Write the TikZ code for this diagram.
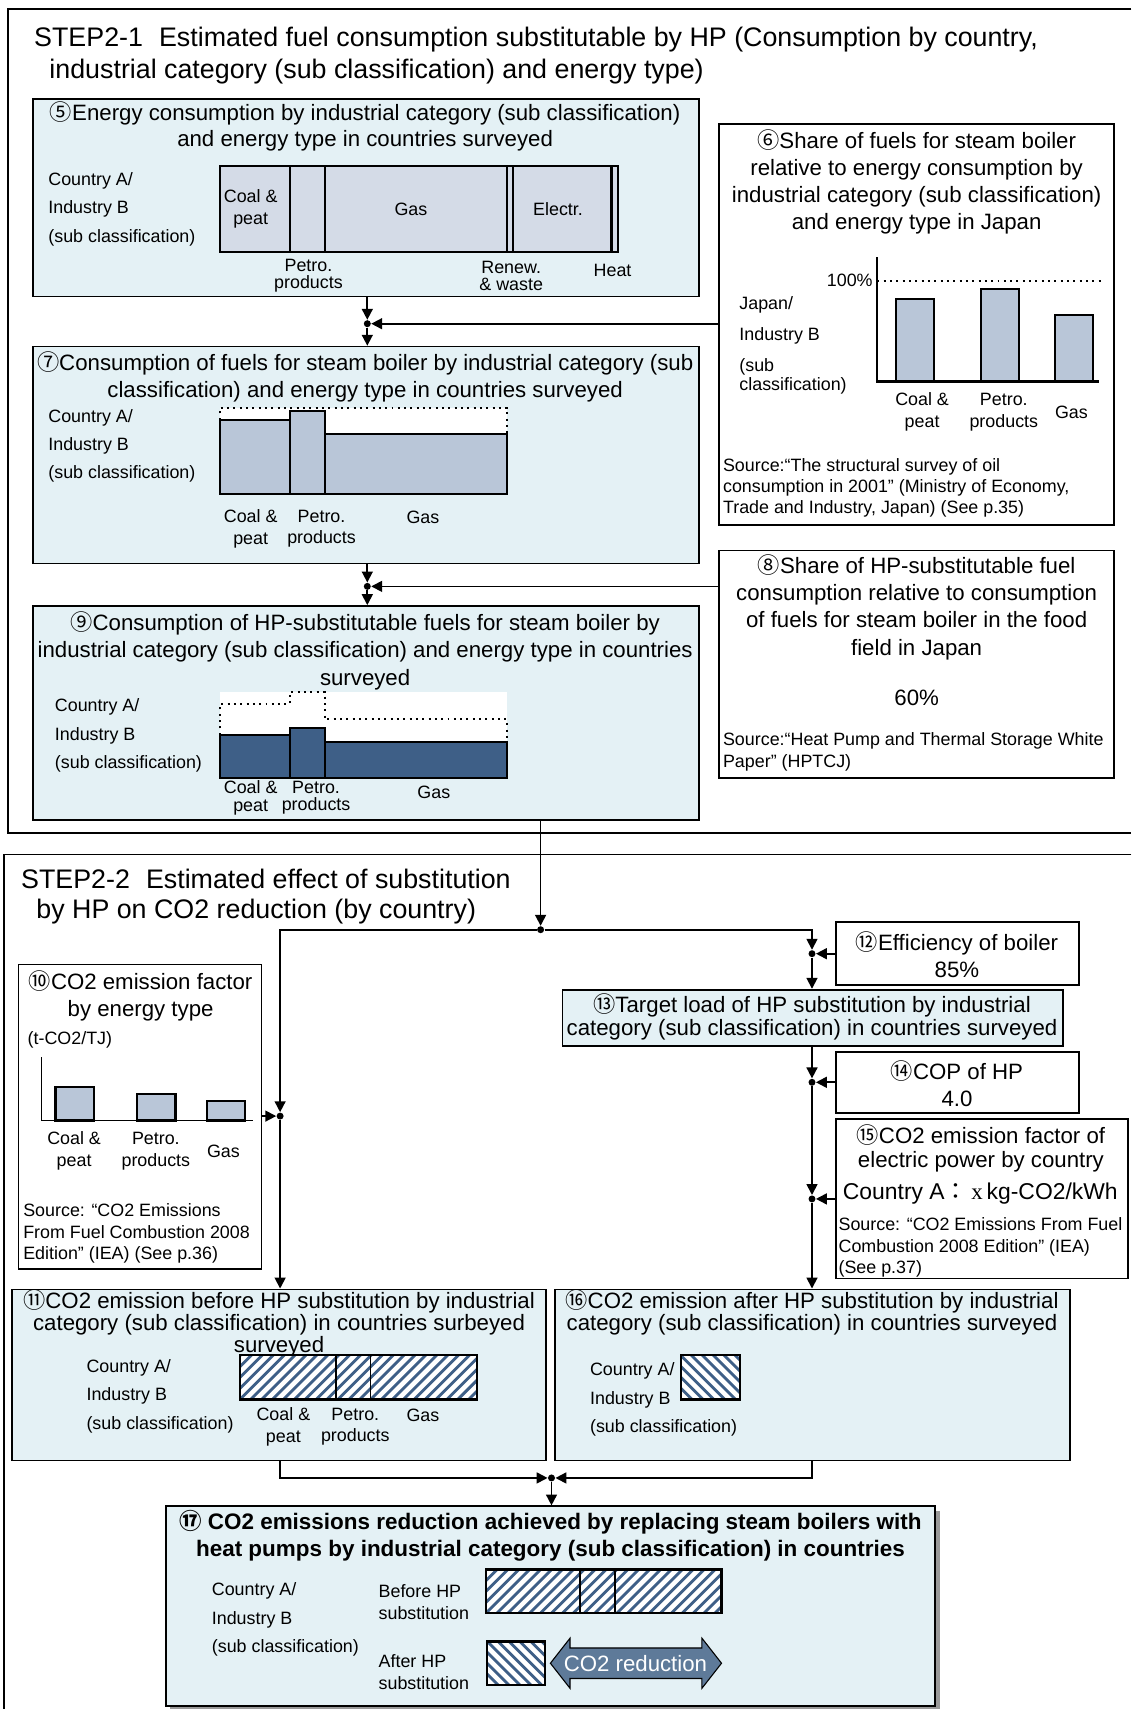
\documentclass[tikz,border=0pt]{standalone}
\usepackage{fontspec}
\setmainfont{Liberation Sans}
\newfontfamily\cjk{Noto Sans CJK JP}
\newfontfamily\serifx{Liberation Serif}
\usetikzlibrary{arrows.meta,fit,shadows}

\definecolor{panel}{RGB}{228,241,245}
\definecolor{barpale}{RGB}{212,219,231}
\definecolor{barmid}{RGB}{185,198,216}
\definecolor{bardark}{RGB}{62,95,135}
\definecolor{cutarrow}{RGB}{94,122,153}

\newcommand{\cnum}[1]{{\cjk #1}}
\newcommand{\fsTitle}{\fontsize{12.3}{15}\selectfont}
\newcommand{\fsBox}{\fontsize{10.2}{12.5}\selectfont}
\newcommand{\fsTight}{\fontsize{10.2}{10.3}\selectfont}
\newcommand{\fsRow}{\fontsize{8.2}{13}\selectfont}
\newcommand{\fsLab}{\fontsize{8.2}{10}\selectfont}
\newcommand{\fsSrc}{\fontsize{8.2}{9.8}\selectfont}

% striped bar: x1,y1,x2,y2,direction
\newcommand{\stripes}[5]{%
  \begin{scope}
    \clip (#1,#2) rectangle (#3,#4);
    \fill[white] (#1,#2) rectangle (#3,#4);
    \foreach \s in {-80,-70,...,300}
      \draw[bardark, line width=1.3pt] (#1+\s,#4) -- ++(#5*60,-60);
  \end{scope}
  \draw[line width=1pt] (#1,#2) rectangle (#3,#4);}

\tikzset{
  panelbox/.style={draw, line width=0.8pt, fill=panel, inner sep=0pt},
  plainbox/.style={draw, line width=0.8pt, fill=white, inner sep=0pt},
  flow/.style={line width=0.8pt, -{Triangle[length=5pt,width=5pt]}},
  joint/.style={circle, fill=black, inner sep=0pt, minimum size=3.2pt},
  bar/.style={draw, line width=1pt, fill=barmid},
  txt/.style={inner sep=0pt, align=center, font=\fsBox},
  lab/.style={inner sep=0pt, align=center, font=\fsLab},
  rows/.style={inner sep=0pt, align=left, anchor=west, font=\fsRow},
  src/.style={inner sep=0pt, align=left, anchor=north west, font=\fsSrc},
}

\begin{document}
\begin{tikzpicture}[x=0.5pt, y=-0.5pt]
\useasboundingbox (0,0) rectangle (1038,1568);

% frames
\draw[line width=0.8pt] (1038,8) -- (7,8) -- (7,764) -- (1038,764);
\draw[line width=0.8pt] (1038,784) -- (4,784) -- (4,1568);
\node[anchor=west, inner sep=0pt, font=\fsTitle] (s1a) at (31,36) {STEP2-1\hspace{0.6em}Estimated fuel consumption substitutable by HP (Consumption by country,};
\node[anchor=west, inner sep=0pt, font=\fsTitle] (s1b) at (45,66) {industrial category (sub classification) and energy type)};
\node[anchor=west, inner sep=0pt, font=\fsTitle] (s2a) at (19,806) {STEP2-2\hspace{0.6em}Estimated effect of substitution};
\node[anchor=west, inner sep=0pt, font=\fsTitle] (s2b) at (33,836) {by HP on CO2 reduction (by country)};

% boxes
\node[panelbox, fit={(30,91) (641,272)}] (b5) {};
\node[plainbox, fit={(660,114) (1022,482)}] (b6) {};
\node[panelbox, fit={(30,318) (641,517)}] (b7) {};
\node[plainbox, fit={(660,505) (1022,714)}] (b8) {};
\node[panelbox, fit={(30,556) (641,752)}] (b9) {};
\node[plainbox, fit={(17,885) (240,1164)}] (b10) {};
\node[panelbox, fit={(11,1183) (501,1340)}] (b11) {};
\node[plainbox, fit={(767,846) (990,904)}] (b12) {};
\node[panelbox, fit={(516,908) (975,960)}] (b13) {};
\node[plainbox, fit={(767,965) (990,1021)}] (b14) {};
\node[plainbox, fit={(767,1027) (1035,1173)}] (b15) {};
\node[panelbox, fit={(509,1183) (982,1340)}] (b16) {};
\node[panelbox, fit={(152,1382) (858,1565)}, drop shadow={shadow xshift=2pt, shadow yshift=-2pt, fill=gray!80, opacity=1}] (b17) {};

% box 5
\node[txt, font=\fontsize{10.2}{11.5}\selectfont] (t5) at (335,116) {\cnum{⑤}Energy consumption by industrial category (sub classification)\\and energy type in countries surveyed};
\node[rows] (r5) at (44,192) {Country A/\\Industry B\\(sub classification)};
\fill[barpale] (202,152) rectangle (567,231);
\draw[line width=1pt] (202,152) rectangle (567,231);
\foreach \x in {266,298,465,471,561}
  \draw[line width=1pt] (\x,152) -- (\x,231);
\node[lab] (l5a) at (230,192) {Coal \&\\peat};
\node[lab] (l5b) at (377,192) {Gas};
\node[lab] (l5c) at (512,192) {Electr.};
\node[lab, font=\fontsize{8.2}{7.8}\selectfont] (l5d) at (283,253) {Petro.\\products};
\node[lab, font=\fontsize{8.2}{7.8}\selectfont] (l5e) at (469,253) {Renew.\\\& waste};
\node[lab] (l5f) at (562,248) {Heat};

% box 6
\node[txt] (t6) at (841,167) {\cnum{⑥}Share of fuels for steam boiler\\relative to energy consumption by\\industrial category (sub classification)\\and energy type in Japan};
\node[rows] (r6a) at (678,280) {Japan/};
\node[rows] (r6b) at (678,308) {Industry B};
\node[rows, font=\fontsize{8.2}{8.8}\selectfont] (r6c) at (678,345) {(sub\\classification)};
\draw[line width=1pt] (805,236) -- (805,350) -- (1008,350);
\draw[dotted, line width=0.9pt] (805,258) -- (1010,258);
\node[lab, anchor=east] (p100) at (801,257) {100\%};
\draw[bar] (822,350) rectangle (857,274);
\draw[bar] (900,350) rectangle (935,265);
\draw[bar] (968,350) rectangle (1003,289);
\node[lab] (l6a) at (846,378) {Coal \&\\peat};
\node[lab] (l6b) at (921,378) {Petro.\\products};
\node[lab] (l6c) at (983,378) {Gas};
\node[src] (src6) at (663,420) {Source:“The structural survey of oil\\consumption in 2001” (Ministry of Economy,\\Trade and Industry, Japan) (See p.35)};

% box 7
\node[txt] (t7) at (335,346) {\cnum{⑦}Consumption of fuels for steam boiler by industrial category (sub\\classification) and energy type in countries surveyed};
\node[rows] (r7) at (44,409) {Country A/\\Industry B\\(sub classification)};
\fill[white] (202,374) rectangle (465,453);
\draw[dotted, line width=0.9pt] (202,385) -- (202,374) -- (465,374) -- (465,398);
\draw[bar] (202,453) rectangle (266,385);
\draw[bar] (266,453) rectangle (298,377);
\draw[bar] (298,453) rectangle (465,398);
\node[lab] (l7a) at (230,485) {Coal \&\\peat};
\node[lab] (l7b) at (295,485) {Petro.\\products};
\node[lab] (l7c) at (388,475) {Gas};

% box 8
\node[txt] (t8) at (841,557) {\cnum{⑧}Share of HP-substitutable fuel\\consumption relative to consumption\\of fuels for steam boiler in the food\\field in Japan};
\node[txt] (v8) at (841,640) {60\%};
\node[src] (src8) at (663,672) {Source:“Heat Pump and Thermal Storage White\\Paper” (HPTCJ)};

% box 9
\node[txt] (t9) at (335,597) {\cnum{⑨}Consumption of HP-substitutable fuels for steam boiler by\\industrial category (sub classification) and energy type in countries\\surveyed};
\node[rows] (r9) at (50,675) {Country A/\\Industry B\\(sub classification)};
\fill[white] (202,635) rectangle (465,714);
\draw[dotted, line width=0.9pt] (202,674) -- (202,646) -- (266,646) -- (266,635) -- (298,635) -- (298,660) -- (465,660) -- (465,681);
\draw[line width=1pt, fill=bardark] (202,714) rectangle (266,674);
\draw[line width=1pt, fill=bardark] (266,714) rectangle (298,668);
\draw[line width=1pt, fill=bardark] (298,714) rectangle (465,681);
\node[lab, font=\fontsize{8.2}{8}\selectfont] (l9a) at (230,732) {Coal \&\\peat};
\node[lab, font=\fontsize{8.2}{8}\selectfont] (l9b) at (290,732) {Petro.\\products};
\node[lab] (l9c) at (398,727) {Gas};

% box 10
\node[txt] (t10) at (129,914) {\cnum{⑩}CO2 emission factor\\by energy type};
\node[rows] (u10) at (25,954) {(t-CO2/TJ)};
\draw[line width=0.8pt] (38,970) -- (38,1028) -- (232,1028);
\draw[bar] (51,1028) rectangle (86,997);
\draw[bar] (126,1028) rectangle (161,1004);
\draw[bar] (190,1028) rectangle (225,1010);
\node[lab] (l10a) at (68,1056) {Coal \&\\peat};
\node[lab] (l10b) at (143,1056) {Petro.\\products};
\node[lab] (l10c) at (205,1056) {Gas};
\node[src] (src10) at (21,1104) {Source: “CO2 Emissions\\From Fuel Combustion 2008\\Edition” (IEA) (See p.36)};

% box 11
\node[txt, font=\fsTight] (t11) at (256,1204) {\cnum{⑪}CO2 emission before HP substitution by industrial\\category (sub classification) in countries surbeyed};
\node[txt, font=\fsTight] (t11b) at (256,1236) {surveyed};
\node[rows] (r11) at (79,1281) {Country A/\\Industry B\\(sub classification)};
\stripes{220}{1243}{438}{1284}{1}
\draw[line width=0.8pt] (308,1243) -- (308,1284);
\draw[line width=0.8pt] (340,1243) -- (340,1284);
\node[lab] (l11a) at (260,1309) {Coal \&\\peat};
\node[lab] (l11b) at (326,1309) {Petro.\\products};
\node[lab] (l11c) at (388,1299) {Gas};

% box 12 - 15
\node[txt] (t12) at (878,876) {\cnum{⑫}Efficiency of boiler\\85\%};
\node[txt, font=\fontsize{10.2}{11}\selectfont] (t13) at (745,933) {\cnum{⑬}Target load of HP substitution by industrial\\category (sub classification) in countries surveyed};
\node[txt] (t14) at (878,994) {\cnum{⑭}COP of HP\\4.0};
\node[txt, font=\fontsize{10.2}{11}\selectfont] (t15) at (900,1054) {\cnum{⑮}CO2 emission factor of\\electric power by country};
\node[anchor=west, inner sep=0pt, font=\fontsize{10.5}{11}\selectfont] (v15) at (773,1095) {Country A\cnum{：}\,{\serifx x}\,kg-CO2/kWh};
\node[src] (src15) at (769,1117) {Source: “CO2 Emissions From Fuel\\Combustion 2008 Edition” (IEA)\\(See p.37)};

% box 16
\node[txt, font=\fsTight] (t16) at (745,1204) {\cnum{⑯}CO2 emission after HP substitution by industrial\\category (sub classification) in countries surveyed};
\node[rows] (r16) at (541,1284) {Country A/\\Industry B\\(sub classification)};
\stripes{625}{1243}{679}{1284}{-1}

% box 17
\node[txt, font=\fontsize{10.3}{12}\selectfont\bfseries] (t17) at (505,1409) {\cnum{⑰} CO2 emissions reduction achieved by replacing steam boilers with\\heat pumps by industrial category (sub classification) in countries};
\node[rows] (r17) at (194,1486) {Country A/\\Industry B\\(sub classification)};
\node[rows, font=\fontsize{8.2}{10}\selectfont] (bef) at (347,1470) {Before HP\\substitution};
\node[rows, font=\fontsize{8.2}{10}\selectfont] (aft) at (347,1534) {After HP\\substitution};
\stripes{446}{1440}{662}{1480}{1}
\draw[line width=0.8pt] (532,1440) -- (532,1480);
\draw[line width=0.8pt] (564,1440) -- (564,1480);
\stripes{447}{1506}{500}{1546}{-1}
\draw[fill=cutarrow, line width=0.5pt] (505,1526) -- (523,1503) -- (523,1512) -- (644,1512) -- (644,1503) -- (662,1526) -- (644,1549) -- (644,1540) -- (523,1540) -- (523,1549) -- cycle;
\node[txt, text=white, font=\fontsize{10.2}{11}\selectfont] (cut) at (583,1526) {CO2 reduction};

% junctions
\node[joint] (j1) at (337,297) {};
\node[joint] (j2) at (337,538) {};
\node[joint] (j3) at (496,853) {};
\node[joint] (j4) at (257,1024) {};
\node[joint] (j5) at (745,875) {};
\node[joint] (j6) at (745,993) {};
\node[joint] (j7) at (745,1100) {};
\node[joint] (j8) at (506,1356) {};

% connectors
\draw[flow] (b5.south -| j1) -- (j1);
\draw[flow] (b6.west |- j1) -- (j1);
\draw[flow] (j1) -- (b7.north -| j1);
\draw[flow] (b7.south -| j2) -- (j2);
\draw[flow] (b8.west |- j2) -- (j2);
\draw[flow] (j2) -- (b9.north -| j2);
\draw[flow] (b9.south -| j3) -- (j3);
\draw[flow] (j3) -| (j4);
\draw[flow] (b10.east |- j4) -- (j4);
\draw[flow] (j4) -- (b11.north -| j4);
\draw[flow] (j3) -| (j5);
\draw[flow] (b12.west |- j5) -- (j5);
\draw[flow] (j5) -- (b13.north -| j5);
\draw[flow] (b13.south -| j6) -- (j6);
\draw[flow] (b14.west |- j6) -- (j6);
\draw[flow] (j6) -- (j7);
\draw[flow] (b15.west |- j7) -- (j7);
\draw[flow] (j7) -- (b16.north -| j7);
\draw[flow] (b11.south -| j4) |- (j8);
\draw[flow] (b16.south -| j7) |- (j8);
\draw[flow] (j8) -- (b17.north -| j8);
\end{tikzpicture}
\end{document}
